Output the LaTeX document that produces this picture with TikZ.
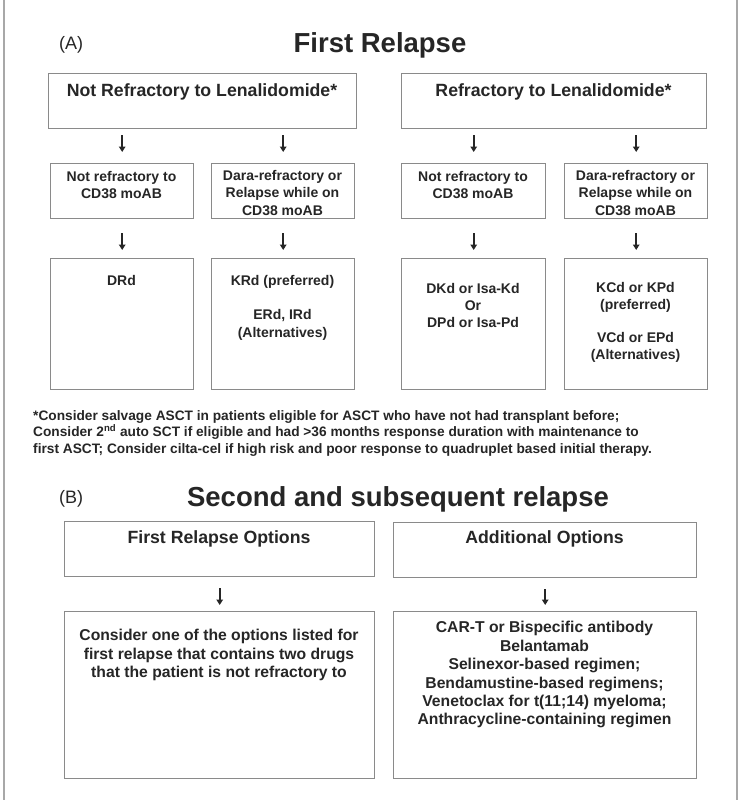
\documentclass[tikz,border=0pt]{standalone}
\usepackage{fontspec}
\setmainfont{Liberation Sans}
\usetikzlibrary{arrows.meta}
\definecolor{boxgray}{HTML}{8A8A8A}
\definecolor{ink}{HTML}{262626}
\definecolor{framegray}{HTML}{A8A8A8}
\tikzset{
  x=1pt, y=1pt,
  box/.style={draw=boxgray, line width=1.4pt, anchor=north west, inner sep=0pt, fill=white},
  smalltxt/.style={text=ink, font=\bfseries\fontsize{14}{17.3}\selectfont, align=center, inner sep=0pt, anchor=north},
  headtxt/.style={text=ink, font=\bfseries\fontsize{17.7}{20}\selectfont, align=center, inner sep=0pt, anchor=north},
  bigtxt/.style={text=ink, font=\bfseries\fontsize{15.7}{18.4}\selectfont, align=center, inner sep=0pt, anchor=north},
  title/.style={text=ink, font=\bfseries\fontsize{27.5}{30}\selectfont, inner sep=0pt, anchor=north},
  panel/.style={text=ink, font=\fontsize{18}{20}\selectfont, inner sep=0pt, anchor=north west},
  note/.style={text=ink, font=\bfseries\fontsize{13.7}{16.5}\selectfont, align=left, inner sep=0pt, anchor=north west},
  arr/.style={draw=ink, line width=1.9pt, -{Triangle[length=5.5pt,width=6.5pt]}},
  frame/.style={draw=framegray, line width=2pt}
}
\begin{document}
\begin{tikzpicture}
\useasboundingbox (0,0) rectangle (746,-800);
\fill[white] (0,0) rectangle (746,-800);
% frame
\coordinate (fl1) at (4,0); \coordinate (fl2) at (4,-800);
\coordinate (fr1) at (737,0); \coordinate (fr2) at (737,-800);
\draw[frame] (fl1) -- (fl2);
\draw[frame] (fr1) -- (fr2);

% (A)
\node[panel] (pa) at (59,-36) {(A)};
\node[title] (ta) at (380,-32.8) {First Relapse};

% top boxes
\node[box, minimum width=308pt, minimum height=55pt] (tl) at (48,-73) {};
\node[box, minimum width=305pt, minimum height=55pt] (tr) at (401,-73) {};
\node[headtxt] (tlt) at (202,-83.5) {Not Refractory to Lenalidomide*};
\node[headtxt] (trt) at (553.5,-83.5) {Refractory to Lenalidomide*};

% row 2
\node[box, minimum width=143pt, minimum height=55pt] (n1) at (50,-163) {};
\node[box, minimum width=143pt, minimum height=55pt] (n2) at (211,-163) {};
\node[box, minimum width=144pt, minimum height=55pt] (n3) at (401,-163) {};
\node[box, minimum width=143pt, minimum height=55pt] (n4) at (564,-163) {};
\node[smalltxt] (n1t) at (121.5,-170.8) {Not refractory to\\CD38 moAB};
\node[smalltxt] (n2t) at (282.5,-170.2) {Dara-refractory or\\Relapse while on\\CD38 moAB};
\node[smalltxt] (n3t) at (473,-170.8) {Not refractory to\\CD38 moAB};
\node[smalltxt] (n4t) at (635.5,-170.2) {Dara-refractory or\\Relapse while on\\CD38 moAB};

% row 3
\node[box, minimum width=143pt, minimum height=131pt] (r1) at (50,-258) {};
\node[box, minimum width=143pt, minimum height=131pt] (r2) at (211,-258) {};
\node[box, minimum width=144pt, minimum height=131pt] (r3) at (401,-258) {};
\node[box, minimum width=143pt, minimum height=131pt] (r4) at (564,-258) {};
\node[smalltxt] (r1t) at (121.5,-274.8) {DRd};
\node[smalltxt] (r2t) at (282.5,-274.8) {KRd (preferred)\\[17.3pt]ERd, IRd\\(Alternatives)};
\node[smalltxt] (r3t) at (473,-282.8) {DKd or Isa-Kd\\Or\\DPd or Isa-Pd};
\node[smalltxt] (r4t) at (635.5,-281.8) {KCd or KPd\\(preferred)\\[15.5pt]VCd or EPd\\(Alternatives)};

% arrows A
\draw[arr, shorten <=6pt, shorten >=11pt] (tl.south -| n1.north) -- (n1.north);
\draw[arr, shorten <=6pt, shorten >=11pt] (tl.south -| n2.north) -- (n2.north);
\draw[arr, shorten <=6pt, shorten >=11pt] (tr.south -| n3.north) -- (n3.north);
\draw[arr, shorten <=6pt, shorten >=11pt] (tr.south -| n4.north) -- (n4.north);
\draw[arr, shorten <=14pt, shorten >=8pt] (n1.south) -- (r1.north);
\draw[arr, shorten <=14pt, shorten >=8pt] (n2.south) -- (r2.north);
\draw[arr, shorten <=14pt, shorten >=8pt] (n3.south) -- (r3.north);
\draw[arr, shorten <=14pt, shorten >=8pt] (n4.south) -- (r4.north);

% footnote
\node[note] (fn) at (33,-410.2) {*Consider salvage ASCT in patients eligible for ASCT who have not had transplant before;\\
Consider 2\textsuperscript{nd} auto SCT if eligible and had >36 months response duration with maintenance to\\
first ASCT; Consider cilta-cel if high risk and poor response to quadruplet based initial therapy.};

% (B)
\node[panel] (pb) at (59,-490) {(B)};
\node[title] (tb) at (398,-486.8) {Second and subsequent relapse};

\node[box, minimum width=310pt, minimum height=55pt] (b1) at (64,-521) {};
\node[box, minimum width=303pt, minimum height=55pt] (b2) at (393,-522) {};
\node[headtxt] (b1t) at (219,-530.5) {First Relapse Options};
\node[headtxt] (b2t) at (544.5,-530.5) {Additional Options};

\node[box, minimum width=310pt, minimum height=167pt] (b3) at (64,-611) {};
\node[box, minimum width=303pt, minimum height=167pt] (b4) at (393,-611) {};
\node[bigtxt] (b3t) at (219,-629.3) {Consider one of the options listed for\\first relapse that contains two drugs\\that the patient is not refractory to};
\node[bigtxt] (b4t) at (544.5,-621.3) {CAR-T or Bispecific antibody\\Belantamab\\Selinexor-based regimen;\\Bendamustine-based regimens;\\Venetoclax for t(11;14) myeloma;\\Anthracycline-containing regimen};

\draw[arr, shorten <=11pt, shorten >=6pt] (b1.south) -- (b3.north);
\draw[arr, shorten <=11pt, shorten >=6pt] (b2.south) -- (b4.north);
\end{tikzpicture}
\end{document}
